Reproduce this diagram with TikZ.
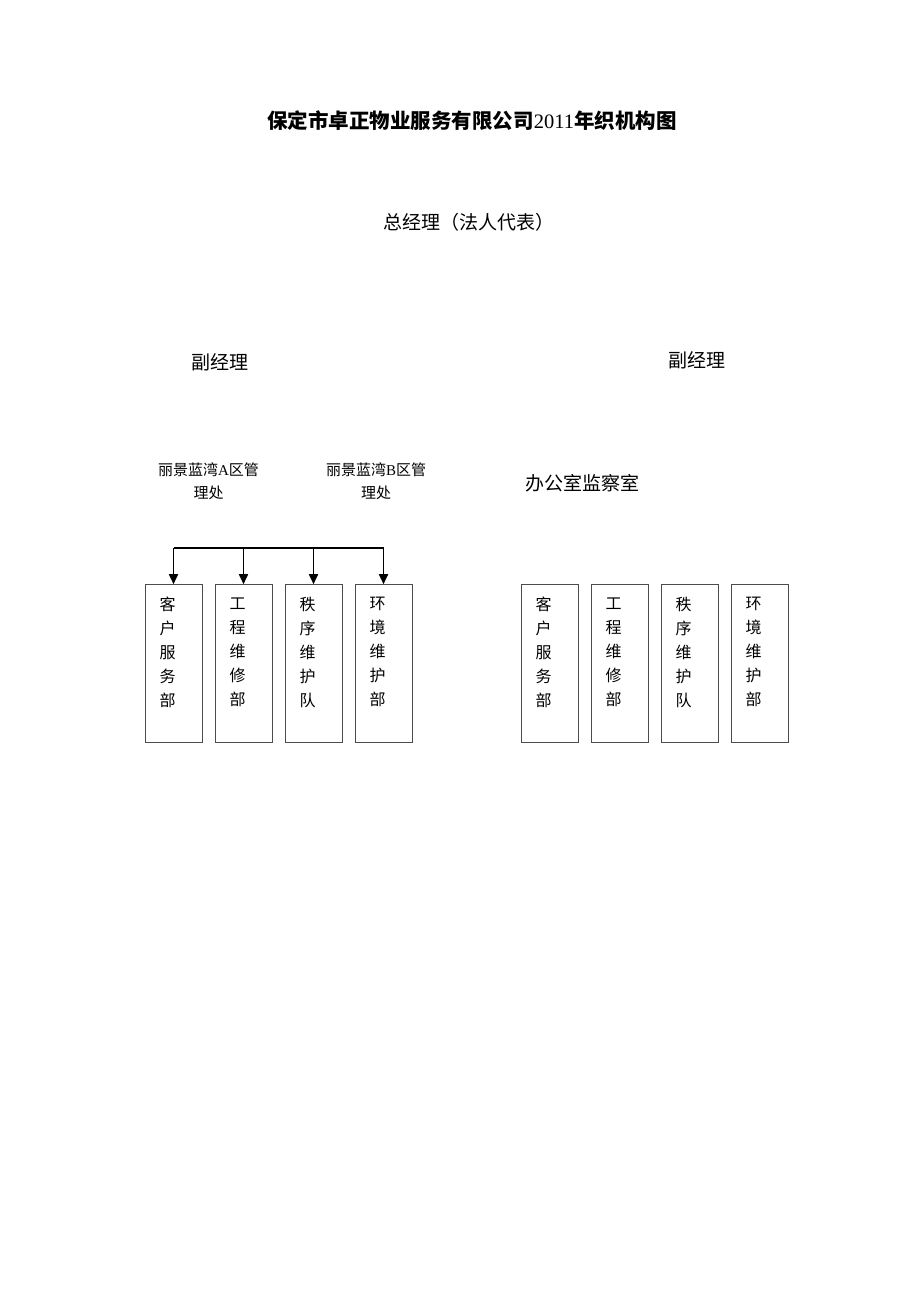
\documentclass[tikz,border=0pt]{standalone}
\usepackage{fontspec}
\setmainfont{Liberation Serif}
\newfontfamily\cjk{Noto Sans CJK SC}
\usetikzlibrary{arrows.meta}
\begin{document}
\begin{tikzpicture}[x=1pt,y=-1pt,
    dept/.style={draw=black!70,line width=0.6pt,minimum width=57pt,minimum height=158pt,inner sep=0pt},
    depttext/.style={anchor=north,align=center,inner sep=0pt,xshift=-6pt,font=\cjk\fontsize{16}{24}\selectfont},
    post/.style={inner sep=0pt,font=\cjk\fontsize{19}{23}\selectfont},
    area/.style={inner sep=0pt,align=center,font=\fontsize{15}{23}\selectfont}]
  \useasboundingbox (0,0) rectangle (920,1301);
  \draw
    (472,121) node[inner sep=0pt,font=\fontsize{20.5}{24}\selectfont] (title){{\cjk\bfseries 保定市卓正物业服务有限公司}2011{\cjk\bfseries 年织机构图}}
    (469,222) node[post] (gm){总经理（法人代表）}
    (220,362) node[post] (vpl){副经理}
    (697,360) node[post] (vpr){副经理}
    (208.5,481.5) node[area] (areaA){{\cjk 丽景蓝湾}A{\cjk 区管}\\{\cjk 理处}}
    (376,481.5) node[area] (areaB){{\cjk 丽景蓝湾}B{\cjk 区管}\\{\cjk 理处}}
    (582,483) node[post] (office){办公室监察室};
  % departments under area A
  \draw
    (173.5,663.5) node[dept] (a1){}
    (243.5,663.5) node[dept] (a2){}
    (313.5,663.5) node[dept] (a3){}
    (383.5,663.5) node[dept] (a4){};
  % departments under the office
  \draw
    (549.5,663.5) node[dept] (b1){}
    (619.5,663.5) node[dept] (b2){}
    (689.5,663.5) node[dept] (b3){}
    (759.5,663.5) node[dept] (b4){};
  \node[depttext] (a1t) at ([yshift=-13pt]a1.north) {客\\户\\服\\务\\部};
  \node[depttext] (a2t) at ([yshift=-13pt]a2.north) {工\\程\\维\\修\\部};
  \node[depttext] (a3t) at ([yshift=-13pt]a3.north) {秩\\序\\维\\护\\队};
  \node[depttext] (a4t) at ([yshift=-13pt]a4.north) {环\\境\\维\\护\\部};
  \node[depttext] (b1t) at ([yshift=-13pt]b1.north) {客\\户\\服\\务\\部};
  \node[depttext] (b2t) at ([yshift=-13pt]b2.north) {工\\程\\维\\修\\部};
  \node[depttext] (b3t) at ([yshift=-13pt]b3.north) {秩\\序\\维\\护\\队};
  \node[depttext] (b4t) at ([yshift=-13pt]b4.north) {环\\境\\维\\护\\部};
  \coordinate (busl) at (173.5,548);
  \coordinate (busr) at (383.5,548);
  \begin{scope}[line width=1.7pt,-{Triangle[width=9pt,length=10pt]}]
    \draw[-] (busl) to (busr);
    \draw (busl) to (a1.north);
    \draw (a2.north |- busl) to (a2.north);
    \draw (a3.north |- busl) to (a3.north);
    \draw (busr) to (a4.north);
  \end{scope}
\end{tikzpicture}
\end{document}
